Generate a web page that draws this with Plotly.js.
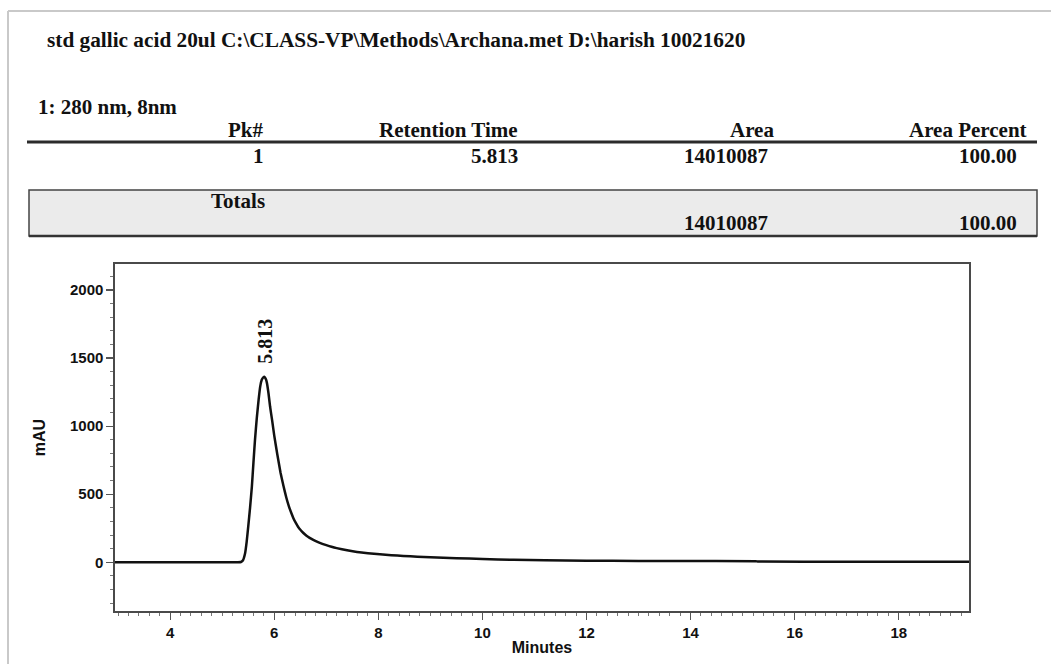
<!DOCTYPE html>
<html>
<head>
<meta charset="utf-8">
<script src="https://cdn.plot.ly/plotly-3.0.1.min.js"></script>
<style>
  html, body { margin: 0; padding: 0; background: #ffffff; }
  #chart { width: 1051px; height: 664px; }
</style>
</head>
<body>
<div id="chart"></div>
<script>
// ---------------- DATA ----------------
const reportTitle = "std gallic acid 20ul C:\\CLASS-VP\\Methods\\Archana.met D:\\harish 10021620";
const channelLabel = "1: 280 nm, 8nm";
const tableHeaders = ["Pk#", "Retention Time", "Area", "Area Percent"];
const peakNumbers = ["1"];
const retentionTimes = ["5.813"];
const peakAreas = ["14010087"];
const areaPercents = ["100.00"];
const totalsLabel = "Totals";
const totalArea = "14010087";
const totalPercent = "100.00";

// chromatogram (minutes, mAU)
const timeMin = [2.94, 4.0, 5.0, 5.30, 5.36, 5.40, 5.44, 5.47, 5.50, 5.535, 5.57, 5.60, 5.63, 5.665, 5.70,
  5.73, 5.76, 5.79, 5.813, 5.84, 5.86, 5.89, 5.92, 5.96, 6.00, 6.06, 6.12, 6.18, 6.23, 6.28, 6.33,
  6.37, 6.42, 6.46, 6.51, 6.56, 6.62, 6.68, 6.75, 6.82, 6.9, 7.0, 7.1, 7.2, 7.4, 7.59, 7.8, 8.03,
  8.25, 8.48, 8.75, 9.0, 9.5, 10.0, 10.6, 11.2, 12.0, 13.0, 14.0, 15.25, 15.3, 17.0, 19.35];
const signalMAU = [0, 0, 0, 0, 2, 15, 66, 150, 262, 400, 556, 730, 899, 1060, 1194,
  1290, 1340, 1358, 1362, 1345, 1316, 1240, 1144, 1040, 930, 790, 660, 556, 478, 413, 360,
  322, 285, 259, 235, 215, 195, 179, 164, 151, 139, 126, 114, 104, 88, 75, 66, 59,
  52, 46, 41, 37, 30, 24, 18, 15, 12, 10, 9, 8, 5, 4, 3];

const xAxisTitle = "Minutes";
const yAxisTitle = "mAU";

// ---------------- LAYOUT HELPERS ----------------
const W = 1051, H = 664;
const plotL = 115, plotR = 969, plotT = 264, plotB = 611;
const pw = plotR - plotL, ph = plotB - plotT;
const px = v => (v - plotL) / pw;      // pixel x -> paper
const py = v => (plotB - v) / ph;      // pixel y -> paper

const serif = "Liberation Serif, Times New Roman, serif";
const sans = "Liberation Sans, Arial, sans-serif";
const tFont = {family: serif, size: 21, color: "#111", weight: "bold"};

function txt(text, xPix, yPix, xanchor, extra) {
  return Object.assign({
    text: text, xref: "paper", yref: "paper", x: px(xPix), y: py(yPix),
    xanchor: xanchor, yanchor: "middle", showarrow: false, font: tFont
  }, extra || {});
}

const colRight = [266, 520, 776, 1029];
const valRight = [266, 520, 770, 1019];

const annotations = [
  txt(reportTitle, 45, 40, "left", {font: Object.assign({}, tFont, {size: 21.3})}),
  txt(channelLabel, 36, 107, "left"),
];
tableHeaders.forEach((h, i) => annotations.push(txt(h, colRight[i], 130, "right")));
[peakNumbers[0], retentionTimes[0], peakAreas[0], areaPercents[0]].forEach((v, i) =>
  annotations.push(txt(v, valRight[i], 156, "right")));
annotations.push(txt(totalsLabel, 267, 201, "right"));
annotations.push(txt(totalArea, valRight[2], 223, "right"));
annotations.push(txt(totalPercent, valRight[3], 223, "right"));

// peak label
const peakIdx = signalMAU.indexOf(Math.max(...signalMAU));
annotations.push({
  text: retentionTimes[0], x: parseFloat(retentionTimes[0]), y: signalMAU[peakIdx],
  xref: "x", yref: "y", textangle: -90, showarrow: false,
  xanchor: "center", yanchor: "bottom", yshift: 11, xshift: 1,
  font: {family: serif, size: 20, color: "#111", weight: "bold"}
});

const shapes = [
  // page frame
  {type: "line", xref: "paper", yref: "paper", x0: px(8), x1: px(W + 5), y0: py(11), y1: py(11),
   line: {color: "#c9c9c9", width: 2}},
  {type: "line", xref: "paper", yref: "paper", x0: px(8), x1: px(8), y0: py(11), y1: py(H + 5),
   line: {color: "#c9c9c9", width: 2}},
  // header rule
  {type: "line", xref: "paper", yref: "paper", x0: px(27), x1: px(1037), y0: py(142), y1: py(142),
   line: {color: "#2b2b2b", width: 3}},
  // totals box
  {type: "rect", xref: "paper", yref: "paper", x0: px(29), x1: px(1037), y0: py(190), y1: py(236),
   fillcolor: "#ebebeb", line: {color: "#444", width: 1.5}, layer: "below"},
  {type: "line", xref: "paper", yref: "paper", x0: px(29), x1: px(1037), y0: py(236), y1: py(236),
   line: {color: "#333", width: 2.5}},
];

const xRange = [2.94, 19.35];
const yRange = [-358, 2191];

const tickFont = {family: sans, size: 15, color: "#111", weight: "bold"};

const trace = {
  x: timeMin, y: signalMAU, type: "scatter", mode: "lines",
  line: {color: "#111", width: 2.5, shape: "spline", smoothing: 0.4},
  hoverinfo: "skip", showlegend: false
};

const layout = {
  width: W, height: H,
  margin: {l: plotL, r: W - plotR, t: plotT, b: H - plotB, pad: 0},
  paper_bgcolor: "#ffffff", plot_bgcolor: "#ffffff",
  showlegend: false,
  xaxis: {
    range: xRange, showgrid: false, zeroline: false,
    showline: true, mirror: true, linecolor: "#4a4a4a", linewidth: 1.6,
    ticks: "outside", tick0: 0, dtick: 2, ticklen: 7, tickwidth: 1.2, tickcolor: "#555",
    minor: {ticks: "outside", dtick: 0.2, tick0: 0, ticklen: 3, tickwidth: 1, tickcolor: "#777", showgrid: false},
    tickfont: tickFont,
    title: {text: xAxisTitle, font: {family: sans, size: 16, color: "#111", weight: "bold"}, standoff: 2},
    automargin: false
  },
  xaxis2: {
    range: xRange, overlaying: "x", anchor: "y", side: "bottom",
    showgrid: false, zeroline: false, showline: false, showticklabels: false,
    ticks: "outside", tick0: 1, dtick: 2, ticklen: 5, tickwidth: 1, tickcolor: "#666"
  },
  yaxis: {
    range: yRange, showgrid: false, zeroline: false,
    showline: true, mirror: true, linecolor: "#4a4a4a", linewidth: 1.6,
    ticks: "outside", tick0: 0, dtick: 500, ticklen: 7, tickwidth: 1.2, tickcolor: "#555",
    minor: {ticks: "outside", dtick: 100, tick0: 0, ticklen: 3, tickwidth: 1, tickcolor: "#777", showgrid: false},
    tickfont: tickFont,
    title: {text: yAxisTitle, font: {family: sans, size: 16, color: "#111", weight: "bold"}, standoff: 20},
    automargin: false
  },
  annotations: annotations,
  shapes: shapes
};

Plotly.newPlot("chart", [trace], layout, {staticPlot: true, displayModeBar: false});
</script>
</body>
</html>
